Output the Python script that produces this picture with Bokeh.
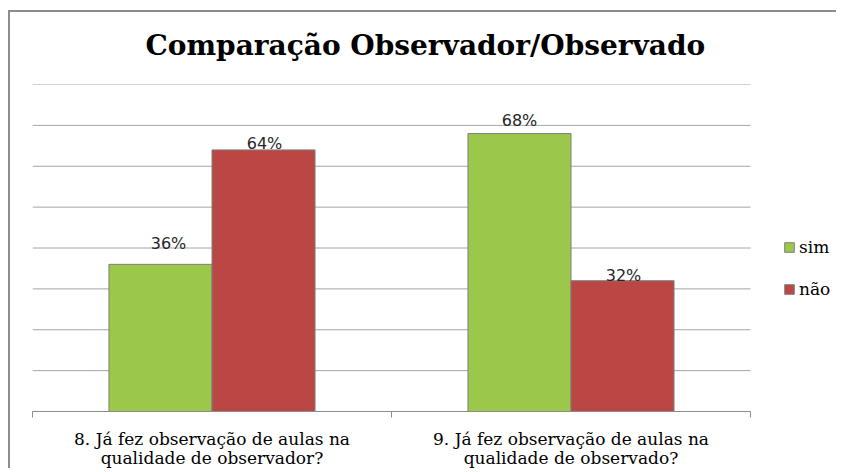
from bokeh.plotting import figure
from bokeh.models import Range1d, FixedTicker, ColumnDataSource, Title
from bokeh.core.properties import value
from bokeh.embed import file_html
from bokeh.resources import INLINE

# ---- data ----
title_text = "Comparação Observador/Observado"
categories = ["8. Já fez observação de aulas na\nqualidade de observador?",
              "9. Já fez observação de aulas na\nqualidade de observado?"]
series_names = ["sim", "não"]
sim_values = [36, 68]
nao_values = [64, 32]
y_ticks = [0, 10, 20, 30, 40, 50, 60, 70, 80]

# ---- style ----
colors = ["#9bc84a", "#bb4744"]
bar_w = 0.287
label_gap_px = {"sim": [21, 13], "não": [6, 5]}
label_shift_px = {"sim": [8, 0], "não": [1, 1]}
n = len(categories)
x_end = n * 804 / 718  # frame extends over the legend area

p = figure(width=828, height=458, output_backend="svg", toolbar_location=None,
           x_range=Range1d(0, x_end), y_range=Range1d(0, y_ticks[-1]),
           min_border_left=22, min_border_right=2, min_border_top=72, min_border_bottom=59)
p.styles = {"border-left": "2px solid #8c8c8c", "border-top": "2px solid #8c8c8c",
            "margin-left": "8px", "margin-top": "10px"}
p.outline_line_color = None
p.background_fill_color = "white"
p.border_fill_color = "white"

# spacer between title and plot area
p.add_layout(Title(text=" ", text_font_size="8px", standoff=10), "above")
p.title = Title(text=title_text, align="left", offset=113, vertical_align="top",
                text_font="DejaVu Serif", text_font_style="bold",
                text_font_size="28px", text_color="#000000", standoff=0)

p.xgrid.visible = False
p.ygrid.visible = False
p.segment(x0=[0] * (len(y_ticks) - 1), x1=[n] * (len(y_ticks) - 1),
          y0=y_ticks[1:], y1=y_ticks[1:], line_color="#a6a6a6", line_width=1)

for k, (name, vals) in enumerate(zip(series_names, [sim_values, nao_values])):
    xs = [i + 0.5 + (k - 0.5) * bar_w for i in range(n)]
    src = ColumnDataSource(dict(x=xs, top=vals, lab=[f"{v}%" for v in vals],
                                off=[-g for g in label_gap_px[name]],
                                xoff=label_shift_px[name]))
    p.vbar(x="x", top="top", width=bar_w, bottom=0, source=src, fill_color=colors[k],
           line_color="#7f7f7f", line_width=1, legend_label=name)
    p.text(x="x", y="top", text="lab", source=src, y_offset="off", x_offset="xoff",
           text_align="center", text_baseline="alphabetic",
           text_font=value("DejaVu Sans"), text_font_size="16px", text_color="#262626")

p.yaxis.visible = False

xa = p.xaxis[0]
xa.bounds = (0, n)
xa.ticker = FixedTicker(ticks=[i + 0.5 for i in range(n)],
                        minor_ticks=list(range(n + 1)))
xa.major_label_overrides = {i + 0.5: c for i, c in enumerate(categories)}
xa.major_tick_line_color = None
xa.minor_tick_line_color = "#8c8c8c"
xa.minor_tick_in = 0
xa.minor_tick_out = 6
xa.axis_line_color = "#8c8c8c"
xa.major_label_text_font = "DejaVu Serif"
xa.major_label_text_font_size = "17px"
xa.major_label_text_color = "#000000"
xa.major_label_text_line_height = 0.95
xa.major_label_standoff = 11

lg = p.legend[0]
lg.location = (751, 112)
lg.border_line_color = None
lg.background_fill_alpha = 0
lg.padding = 0
lg.margin = 0
lg.glyph_width = 12
lg.glyph_height = 12
lg.label_standoff = 4
lg.spacing = 22
lg.label_text_font = "DejaVu Serif"
lg.label_text_font_size = "17px"
lg.label_text_color = "#000000"

open("out.html", "w").write(file_html(p, INLINE))
